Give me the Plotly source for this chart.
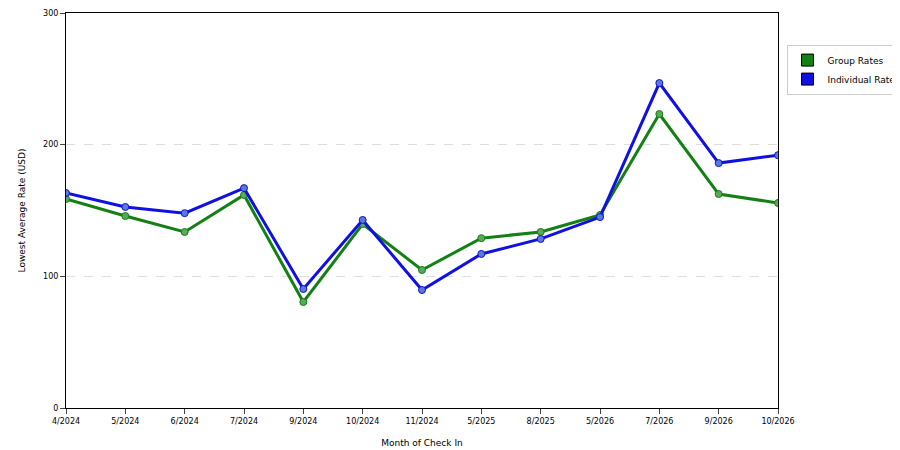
import plotly.graph_objects as go

months = ["4/2024", "5/2024", "6/2024", "7/2024", "9/2024", "10/2024", "11/2024",
          "5/2025", "8/2025", "5/2026", "7/2026", "9/2026", "10/2026"]
group_rates = [158.7, 145.8, 133.7, 161.8, 80.5, 139.7, 104.8, 129.0, 133.7, 146.6, 223.3, 162.5, 155.7]
individual_rates = [163.3, 152.7, 148.0, 167.0, 90.4, 142.8, 89.6, 117.0, 128.4, 145.0, 246.8, 186.0, 192.0]

fig = go.Figure()
fig.add_trace(go.Scatter(x=months, y=group_rates, name="Group Rates", mode="lines+markers",
                         showlegend=False,
                         line=dict(color="#138013", width=3),
                         marker=dict(size=7, color="#5aa85a", line=dict(color="#138013", width=1))))
fig.add_trace(go.Scatter(x=months, y=individual_rates, name="Individual Rates", mode="lines+markers",
                         showlegend=False,
                         line=dict(color="#1010e0", width=3),
                         marker=dict(size=7, color="#5a7ad8", line=dict(color="#1010e0", width=1))))
# legend-only square swatches
for name, col in [("Group Rates", "#138013"), ("Individual Rates", "#1010e0")]:
    fig.add_trace(go.Scatter(x=[None], y=[None], name=name, mode="markers",
                             marker=dict(symbol="square", size=12, color=col,
                                         line=dict(color="black", width=1))))

fig.update_layout(
    width=900, height=450, plot_bgcolor="white", paper_bgcolor="white",
    margin=dict(l=58, r=130, t=5, b=50, autoexpand=False),
    font=dict(family="DejaVu Sans", size=9, color="black"),
    legend=dict(x=1.012, y=0.92, xanchor="left", yanchor="top", bordercolor="#cccccc",
                borderwidth=1, font=dict(size=9), itemwidth=30),
    xaxis=dict(title=dict(text="Month of Check In", font=dict(size=9)), showline=True,
               linecolor="black", mirror=True, ticks="outside", ticklen=5, range=[0, 12],
               showgrid=False, tickfont=dict(size=8)),
    yaxis=dict(title=dict(text="Lowest Average Rate (USD)", font=dict(size=9)), range=[0, 300],
               tickvals=[0, 100, 200, 300], showline=True, linecolor="black", mirror=True,
               ticks="outside", ticklen=5, gridcolor="#dddddd", griddash="dash",
               zeroline=False, tickfont=dict(size=8)),
)
fig.write_html("out.html")
